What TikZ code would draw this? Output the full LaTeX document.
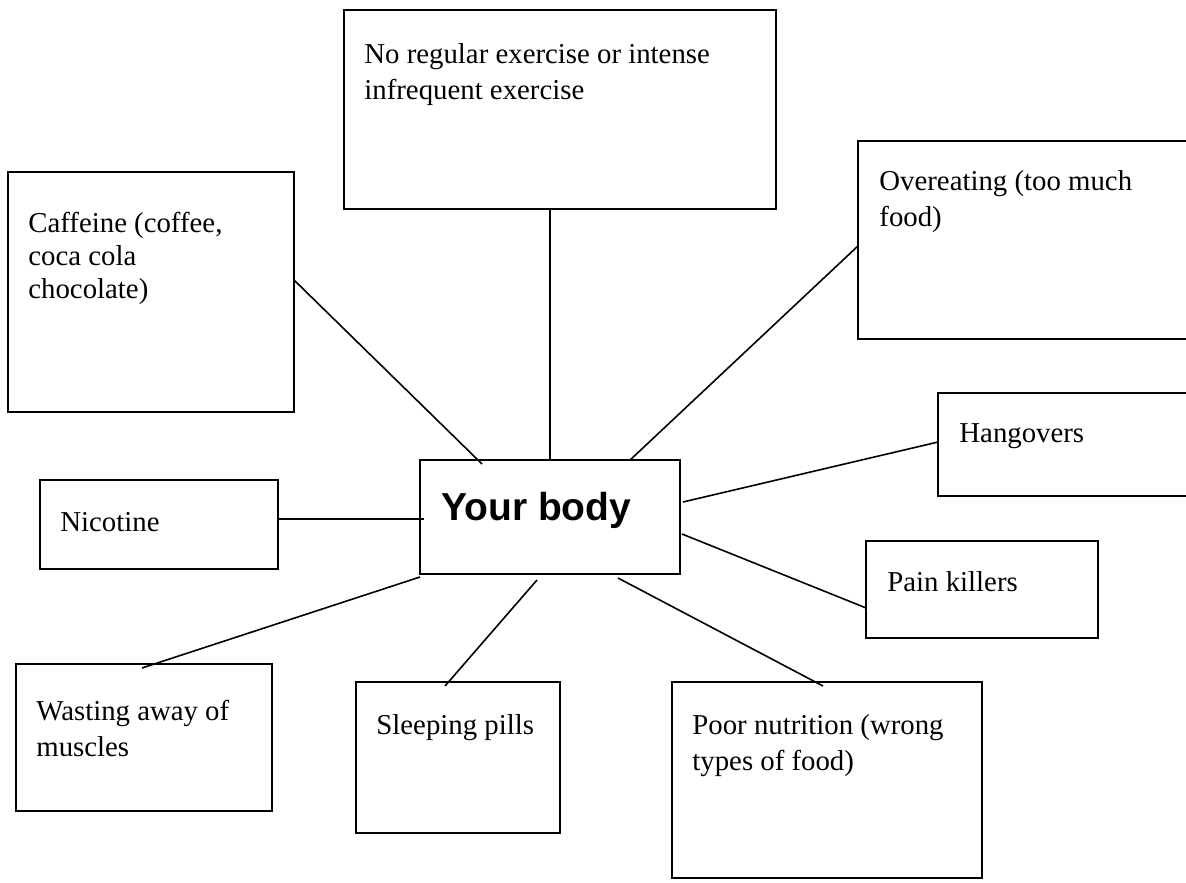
\documentclass[tikz,border=0pt]{standalone}
\usepackage{fontspec}
\setmainfont{Liberation Serif}
\newfontfamily\bodyfont{Liberation Sans}
\usetikzlibrary{calc}
\newcommand\ml[1]{\begin{tabular}[t]{@{}l@{}}#1\end{tabular}}
\begin{document}
\begin{tikzpicture}[x=0.5pt,y=-0.5pt,
  box/.style={draw, line width=1pt, inner sep=0pt, outer sep=0pt, anchor=north west},
  conn/.style={draw, line width=0.8pt},
  lbl/.style={anchor=base west, inner sep=0pt, font=\fontsize{14.4}{18}\selectfont}]
\path[use as bounding box, clip] (0,0) rectangle (1186,882);
\fill[white] (0,0) rectangle (1186,882);
% boxes
\node[box, minimum width=216pt, minimum height=99.5pt] (ex)    at (344,10)  {};
\node[box, minimum width=143pt, minimum height=120pt]  (caff)  at (8,172)   {};
\node[box, minimum width=170pt, minimum height=99pt]   (over)  at (858,141) {};
\node[box, minimum width=150pt, minimum height=51.5pt] (hang)  at (938,393) {};
\node[box, minimum width=119pt, minimum height=44.5pt] (nic)   at (40,480)  {};
\node[box, minimum width=130pt, minimum height=57pt]   (body)  at (420,460) {};
\node[box, minimum width=116pt, minimum height=48.5pt] (pain)  at (866,541) {};
\node[box, minimum width=128pt, minimum height=73.5pt] (wast)  at (16,664)  {};
\node[box, minimum width=102pt, minimum height=75.5pt] (sleep) at (356,682) {};
\node[box, minimum width=155pt, minimum height=98pt]   (poor)  at (672,682) {};
% texts
\node[lbl] (exT) at (364,64) {\ml{No regular exercise or intense\\infrequent exercise}};
\node[lbl, font=\fontsize{14.4}{16.5}\selectfont] (caffT) at (28,232) {\ml{Caffeine (coffee,\\coca cola\\chocolate)}};
\node[lbl] (overT) at (879,191) {\ml{Overeating (too much\\food)}};
\node[lbl] (hangT) at (959,442) {Hangovers};
\node[lbl] (nicT) at (60,531) {Nicotine};
\node[lbl, font=\bodyfont\bfseries\fontsize{19.5}{22}\selectfont] (bodyT) at (441,520) {Your body};
\node[lbl] (painT) at (887,591) {Pain killers};
\node[lbl] (wastT) at (36,720) {\ml{Wasting away of\\muscles}};
\node[lbl] (sleepT) at (376,734) {Sleeping pills};
\node[lbl] (poorT) at (692,734) {\ml{Poor nutrition (wrong\\types of food)}};
% connectors
\draw[conn] ($(caff.north east)!0.45!(caff.south east)$) -- ([shift={(62,4)}]body.north west);
\draw[conn] (body.north |- ex.south) -- (body.north);
\draw[conn] ($(over.north west)!0.53!(over.south west)$) -- ($(body.north west)!0.808!(body.north east)$);
\draw[conn] ($(hang.north west)!0.476!(hang.south west)$) -- ([shift={(3,42)}]body.north east);
\coordinate (n1) at ($(nic.north east)!0.44!(nic.south east)$);
\draw[conn] (n1) -- ([xshift=2pt]body.west |- n1);
\draw[conn] ($(pain.north west)!0.69!(pain.south west)$) -- ([shift={(2,74)}]body.north east);
\draw[conn] ([shift={(126,4)}]wast.north west) -- ([shift={(0,3)}]body.south west);
\draw[conn] ([shift={(89,4)}]sleep.north west) -- ([shift={(117,6)}]body.south west);
\draw[conn] ([shift={(151,4)}]poor.north west) -- ([shift={(198,4)}]body.south west);
\end{tikzpicture}
\end{document}
